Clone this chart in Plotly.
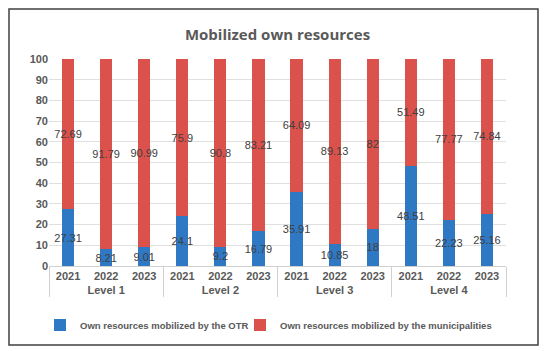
import plotly.graph_objects as go

levels = ["Level 1"]*3 + ["Level 2"]*3 + ["Level 3"]*3 + ["Level 4"]*3
years = ["2021", "2022", "2023"] * 4
otr = [27.31, 8.21, 9.01, 24.1, 9.2, 16.79, 35.91, 10.85, 18, 48.51, 22.23, 25.16]
muni = [72.69, 91.79, 90.99, 75.9, 90.8, 83.21, 64.09, 89.13, 82, 51.49, 77.77, 74.84]

x = [levels, years]
FONT = "Liberation Sans Narrow, Liberation Sans, Arial"
font_lab = dict(family=FONT, size=11, color="#404040")
font_tick = dict(family=FONT, size=11, color="#595959", weight="bold")

# page body has an 8px margin: figure is 542x343 so it fills the 550x351 window
W, H = 542, 343
L, R, T, B = 41, 44, 51, 85
ph = H - T - B
pw = W - L - R

fig = go.Figure()
fig.add_trace(go.Bar(x=x, y=otr, name="<b>Own resources mobilized by the OTR</b>",
                     marker=dict(color="#2f78c3", line=dict(width=0)),
                     text=[str(v) for v in otr], textposition="inside", textangle=0,
                     constraintext="none", insidetextanchor="middle",
                     textfont=font_lab, width=0.32, legend="legend"))
fig.add_trace(go.Bar(x=x, y=muni, name="<b>Own resources mobilized by the municipalities</b>",
                     marker=dict(color="#db514b", line=dict(width=0)),
                     text=[str(v) for v in muni], textposition="inside", textangle=0,
                     constraintext="none", insidetextanchor="middle",
                     textfont=font_lab, width=0.32, legend="legend2"))

leg_common = dict(orientation="h", xref="container", xanchor="left",
                  y=(258 - 317) / ph, yanchor="middle",
                  font=dict(family=FONT, size=9.5, color="#595959"),
                  itemwidth=30, bgcolor="rgba(0,0,0,0)")

fig.update_layout(
    barmode="stack",
    width=W, height=H,
    margin=dict(l=L, r=R, t=T, b=B, autoexpand=False),
    paper_bgcolor="white", plot_bgcolor="white",
    uniformtext=dict(minsize=8, mode="show"),
    title=dict(text="<b>Mobilized own resources</b>", x=0.5, xref="paper", xanchor="center",
               y=1 - 27/H, yanchor="middle",
               font=dict(family="Open Sans", size=15, color="#595959")),
    legend=dict(x=32 / W, **leg_common),
    legend2=dict(x=232 / W, **leg_common),
    showlegend=True,
    xaxis=dict(type="multicategory", showline=True, linecolor="#d0d0d0",
               tickfont=font_tick,
               showdividers=True, dividercolor="#d0d0d0", dividerwidth=1,
               ticks=""),
    yaxis=dict(range=[0, 100], dtick=10, showgrid=True, gridcolor="#e0e0e0",
               zeroline=False, ticks="", tickfont=font_tick),
    shapes=[dict(type="rect", xref="paper", yref="paper",
                 x0=(1 - L) / pw, x1=(530 - L) / pw,
                 y0=(ph + T - 337) / ph, y1=(ph + T - 1) / ph,
                 line=dict(color="#404040", width=1.5))],
)
fig.write_html("out.html")
